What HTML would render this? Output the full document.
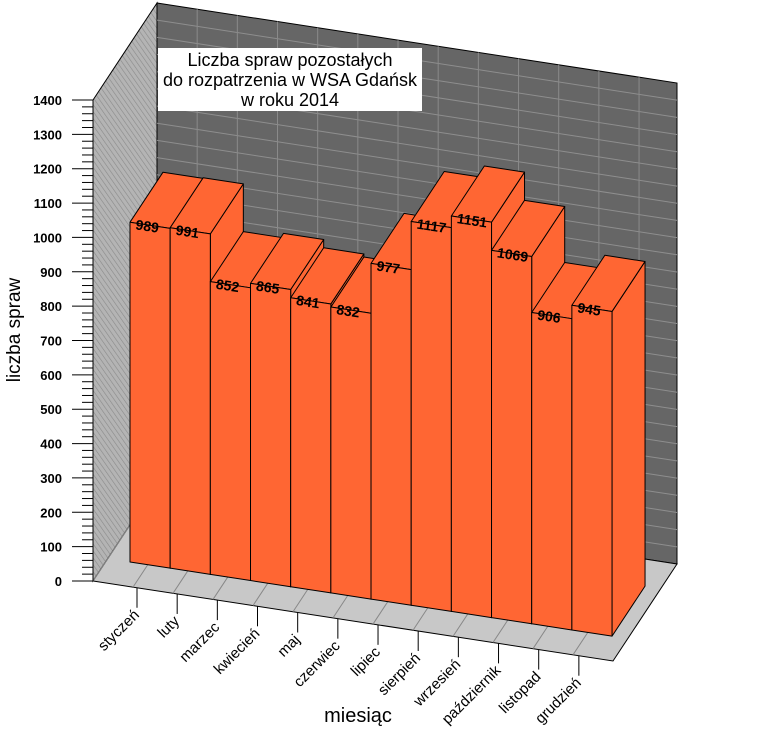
<!DOCTYPE html>
<html><head><meta charset="utf-8">
<style>html,body{margin:0;padding:0;background:#fff;}svg{display:block;font-family:"Liberation Sans",sans-serif;}</style>
</head><body>
<svg id="c" width="758" height="737" viewBox="0 0 758 737" xmlns="http://www.w3.org/2000/svg">
<defs>
<pattern id="hatch" width="4" height="4" patternUnits="userSpaceOnUse" patternTransform="rotate(-35)">
<rect width="4" height="4" fill="#b4b4b4"/><line x1="0" y1="0" x2="0" y2="4" stroke="#8a8a8a" stroke-width="1.2"/>
</pattern>
</defs>
<polygon points="157,3 677,83 677,564 157,484" fill="#666" stroke="#000"/>
<polygon points="93,100 157,3 157,484 93,581" fill="url(#hatch)" stroke="#000"/>
<polygon points="93,581 157,484 677,564 613,661" fill="#c8c8c8" stroke="#000"/>
<g id="grid"></g>
<rect x="158" y="48" width="264" height="63" fill="#fff"/>
<text x="290" y="66" font-size="18" text-anchor="middle">Liczba spraw pozostałych</text>
<text x="290" y="86" font-size="18" text-anchor="middle">do rozpatrzenia w  WSA Gdańsk</text>
<text x="290" y="106" font-size="18" text-anchor="middle">w roku 2014</text>
<g id="bars"></g>
<g id="axes" font-size="13"></g>
<text x="358" y="722" font-size="20" text-anchor="middle" fill="#000">miesiąc</text>
<text transform="translate(20,330) rotate(-90)" font-size="19" text-anchor="middle">liczba spraw</text>
</svg>
<script>
var NS="http://www.w3.org/2000/svg";
function el(p,t,a,txt){var e=document.createElementNS(NS,t);for(var k in a)e.setAttribute(k,a[k]);if(txt!==undefined)e.textContent=txt;document.getElementById(p).appendChild(e);return e;}
var S=0.1538, K=481/1400;
for(var v=50;v<1400;v+=50){var y=484-v*K;el("grid","line",{x1:157,y1:y,x2:677,y2:y+80,stroke:"#8e8e8e","stroke-width":1});}
for(var i=1;i<13;i++){var x=157+40.17*i;el("grid","line",{x1:x,y1:3+(x-157)*S,x2:x,y2:484+(x-157)*S,stroke:"#8a8a8a","stroke-width":1});}
for(var i=0;i<13;i++){var fx=93+i*40;var fy=581+(fx-93)*S;el("grid","line",{x1:fx,y1:fy,x2:fx+64,y2:fy-97,stroke:"#888","stroke-width":1});}
var vals=[989,991,852,865,841,832,977,1117,1151,1069,906,945];
var names=["styczeń","luty","marzec","kwiecień","maj","czerwiec","lipiec","sierpień","wrzesień","październik","listopad","grudzień"];
var W=40.17,dx=33,dy=-50;
for(var i=0;i<12;i++){
 var xl=130+W*i,xr=xl+W,bl=562+(xl-130)*S,br=562+(xr-130)*S,h=vals[i]*K;
 var st={fill:"#ff6633",stroke:"#000","stroke-width":1,"stroke-linejoin":"round"};
 var a=Object.assign({},st);a.points=[xr,br-h,xr+dx,br-h+dy,xr+dx,br+dy,xr,br].join(" ");el("bars","polygon",a);
 a=Object.assign({},st);a.points=[xl,bl-h,xr,br-h,xr+dx,br-h+dy,xl+dx,bl-h+dy].join(" ");el("bars","polygon",a);
 a=Object.assign({},st);a.points=[xl,bl-h,xr,br-h,xr,br,xl,bl].join(" ");el("bars","polygon",a);
 var tx=xl+5,ty=bl-h+7;
 el("bars","text",{x:tx,y:ty,"font-size":14,"font-weight":"bold",transform:"rotate(8.75 "+tx+" "+ty+")"},String(vals[i]));
}
for(var v=0;v<=1400;v+=20){var y=581-v*K;var maj=v%100==0;el("axes","line",{x1:maj?72:82,y1:y,x2:93,y2:y,stroke:"#000"});if(maj)el("axes","text",{x:62,y:y+5,"text-anchor":"end","font-weight":"bold"},String(v));}
el("axes","line",{x1:93,y1:100,x2:93,y2:581,stroke:"#000"});
for(var i=0;i<12;i++){var x=137+40.17*i;var y=581+(x-93)*S;el("axes","line",{x1:x,y1:y,x2:x,y2:y+20,stroke:"#000"});
 var lx=x+3,ly=y+28;el("axes","text",{x:lx,y:ly,"text-anchor":"end","font-size":15,transform:"rotate(-45 "+lx+" "+ly+")"},names[i]);}
</script>
</body></html>
